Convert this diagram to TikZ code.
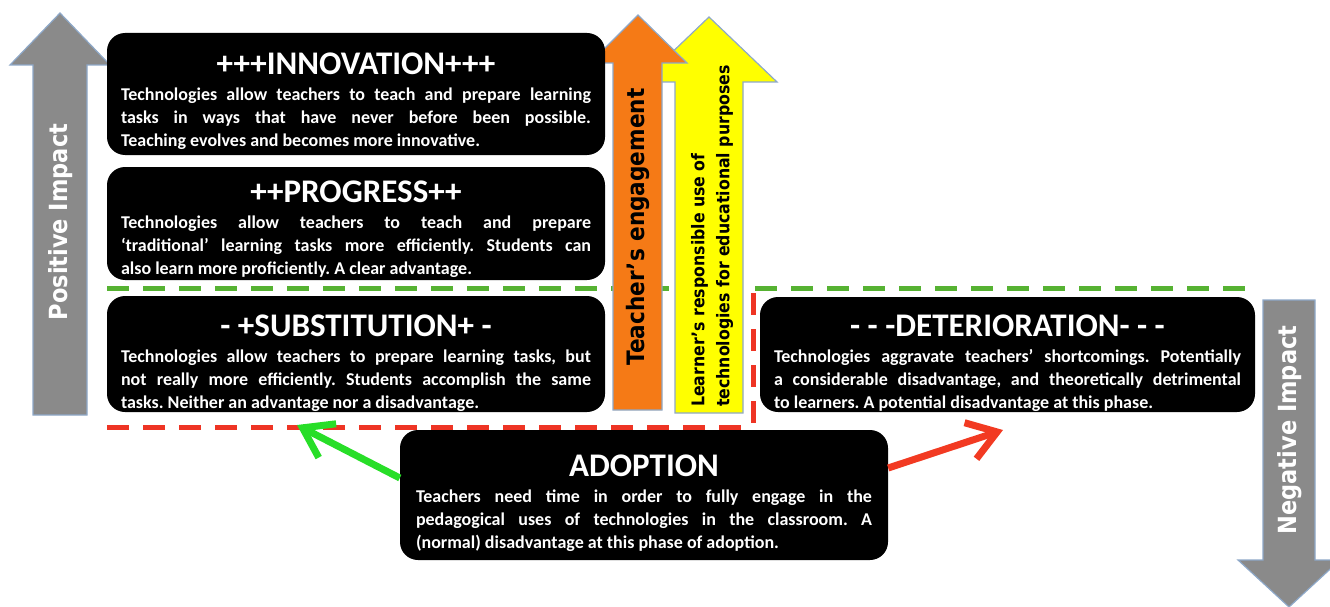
\documentclass[tikz,border=0pt]{standalone}
\usepackage{fontspec}
\setmainfont{Carlito}
\newfontfamily\labelfont{DejaVu Sans Condensed}
\usetikzlibrary{positioning}
\usetikzlibrary{arrows.meta}
\definecolor{impactgray}{RGB}{138,138,138}
\definecolor{arrowedge}{RGB}{142,168,200}
\definecolor{engorange}{RGB}{245,122,22}
\definecolor{useyellow}{RGB}{255,255,0}
\definecolor{dashgreen}{RGB}{86,178,50}
\definecolor{dashred}{RGB}{238,52,36}
\definecolor{gogreen}{RGB}{40,222,40}
\definecolor{gored}{RGB}{242,58,34}
\frenchspacing
\newlength\bodywd
\newcommand{\fullline}[1]{\makebox[\bodywd][s]{#1}}
\newcommand{\lastline}[1]{\makebox[\bodywd][l]{#1}}
\newcommand{\phasetitle}[1]{{\fontsize{33}{36}\selectfont #1}}
\tikzset{%
  phase/.style = {rectangle,fill=black,rounded corners=18pt,inner sep=0pt},
  phasetext/.style = {text=white,inner sep=0pt,align=center,
        font=\bfseries\fontsize{18}{23}\selectfont,
        execute at begin node={\setlength\bodywd{#1}}},
  phasetext/.default = 470pt,
  bigarrow/.style = {draw=arrowedge,line width=1.2pt},
  armlabel/.style = {rotate=90,inner sep=0pt,
        font=\labelfont\bfseries\fontsize{#1}{#1}\selectfont},
  armlabel/.default = 25,
  levelline/.style = {line width=5pt,dash pattern=on 22pt off 14pt},
  goarrow/.style = {line width=7pt,-{Straight Barb[length=28pt,width=38pt]}}
}
\begin{document}
\begin{tikzpicture}[x=1pt,y=-1pt]
    \useasboundingbox (0,0) rectangle (1330,607);
    % level lines
    \draw[levelline,dashgreen] (107,288) -- (1250,288);
    \draw[levelline,dashred] (107,427) -- (748,427);
    \draw[levelline,dashred] (753,293) -- (753,430);
    % impact arrows
    \draw[bigarrow,fill=impactgray] (33,415) -- (33,65) -- (10,65) -- (60,13)
        -- (110,65) -- (87,65) -- (87,415) -- cycle;
    \draw[bigarrow,fill=impactgray] (1263,300) -- (1315,300) -- (1315,560)
        -- (1340,560) -- (1289,607) -- (1238,560) -- (1263,560) -- cycle;
    \node[armlabel,text=white] (posimpact) at (61,222) {Positive Impact};
    \node[armlabel,text=white] (negimpact) at (1290,430) {Negative Impact};
    % engagement arrows
    \draw[bigarrow,fill=useyellow] (675,413) -- (675,82) -- (641,82) -- (709,17)
        -- (777,82) -- (743,82) -- (743,413) -- cycle;
    \draw[bigarrow,fill=engorange] (613,410) -- (613,63) -- (590,63) -- (638,15)
        -- (687,63) -- (662,63) -- (662,410) -- cycle;
    \node[armlabel=24] (teacher) at (638,227) {Teacher’s engagement};
    \node[rotate=90,anchor=west,align=left,inner sep=0pt,
        font=\labelfont\bfseries\fontsize{17.5}{25}\selectfont] (learner) at (712,407)
        {Learner’s responsible use of\\technologies for educational purposes};
    % phases
    \node[phase,minimum width=498pt,minimum height=122pt] (innov) at (356,94) {};
    \node[phasetext,below=20pt of innov.north] (innovT) {%
        \phasetitle{+++INNOVATION+++}\\[3pt]
        \fullline{Technologies allow teachers to teach and prepare learning}\\
        \fullline{tasks in ways that have never before been possible.}\\
        \lastline{Teaching evolves and becomes more innovative.}};
    \node[phase,minimum width=498pt,minimum height=113pt] (prog) at (356,223.5) {};
    \node[phasetext,below=14pt of prog.north] (progT) {%
        \phasetitle{++PROGRESS++}\\[3pt]
        \fullline{Technologies allow teachers to teach and prepare}\\
        \fullline{‘traditional’ learning tasks more efficiently. Students can}\\
        \lastline{also learn more proficiently. A clear advantage.}};
    \node[phase,minimum width=498pt,minimum height=116pt] (subst) at (356,354) {};
    \node[phasetext,below=19pt of subst.north] (substT) {%
        \phasetitle{- +SUBSTITUTION+ -}\\[3pt]
        \fullline{Technologies allow teachers to prepare learning tasks, but}\\
        \fullline{not really more efficiently. Students accomplish the same}\\
        \lastline{tasks. Neither an advantage nor a disadvantage.}};
    \node[phase,minimum width=495pt,minimum height=115pt] (deter) at (1007.5,354.5) {};
    \node[phasetext=467pt,below=18pt of deter.north] (deterT) {%
        \phasetitle{- - -DETERIORATION- - -}\\[3pt]
        \fullline{Technologies aggravate teachers’ shortcomings. Potentially}\\
        \fullline{a considerable disadvantage, and theoretically detrimental}\\
        \lastline{to learners. A potential disadvantage at this phase.}};
    \node[phase,minimum width=488pt,minimum height=130pt] (adopt) at (644,495) {};
    \node[phasetext=456pt,below=25pt of adopt.north] (adoptT) {%
        \phasetitle{ADOPTION}\\[3pt]
        \fullline{Teachers need time in order to fully engage in the}\\
        \fullline{pedagogical uses of technologies in the classroom. A}\\
        \lastline{(normal) disadvantage at this phase of adoption.}};
    % moves out of adoption
    \coordinate (substmark) at (297,425);
    \coordinate (determark) at (1003,430);
    \draw[goarrow,gogreen] ([yshift=17pt]adopt.west) -- (substmark);
    \draw[goarrow,gored] ([yshift=27pt]adopt.east) -- (determark);
\end{tikzpicture}
\end{document}
